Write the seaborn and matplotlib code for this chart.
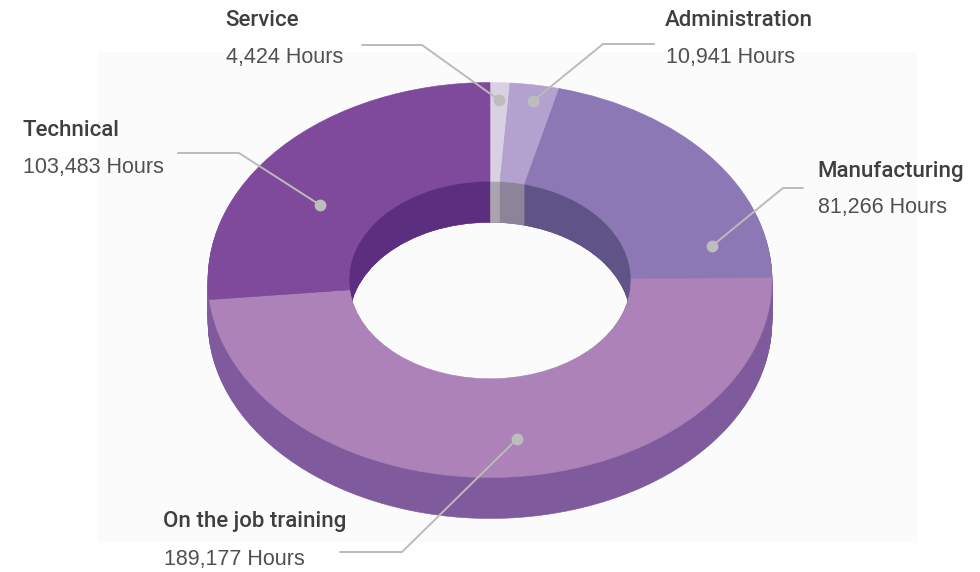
import matplotlib.pyplot as plt
import seaborn as sns

CATEGORIES = ["Service", "Administration", "Manufacturing", "On the job training", "Technical"]
HOURS = [4424, 10941, 81266, 189177, 103483]
TOP_COLORS = ["#DAD0E4", "#B3A2CF", "#8D78B6", "#AC82B8", "#7F4A9C"]
WALL_COLORS = ["#ABA3B0", "#8E8499", "#5F5388", "#7F5A9D", "#5C2E7F"]
SIDE_COLOR = "#7F5A9D"

# layout in reference pixels
W, H = 980, 572
CX, CY, RX, RY = 490, 280, 282, 197.5
DEPTH = 41
TEXT_POS = [(226, 21, 58), (666, 21, 58), (818, 171, 208), (164, 522, 560), (23, 130, 167)]
LEADERS = [
    [(362, 45), (422, 45), (499, 100)],
    [(654, 44), (603, 44), (533, 101)],
    [(803, 188), (783, 188), (712, 246)],
    [(340, 552), (402, 552), (517, 439)],
    [(178, 153), (239, 153), (320, 205)],
]

sns.set_theme(style="white")
plt.rcParams["font.family"] = ["Liberation Sans", "DejaVu Sans"]

fig = plt.figure(figsize=(W / 100, H / 100), dpi=100, facecolor="white")
fig.add_artist(
    plt.Rectangle(
        (98 / W, 1 - 543 / H),
        819 / W,
        491 / H,
        transform=fig.transFigure,
        color="#FBFBFB",
        linewidth=0,
        zorder=-1,
    )
)

ax = fig.add_axes([0, 0, 1, 1], zorder=1)
ax.patch.set_visible(False)


def draw_ring(offset, colors, radius=1, width=0.5):
    wedges, _ = ax.pie(
        HOURS,
        colors=colors,
        startangle=90,
        counterclock=False,
        radius=radius,
        center=(0, -offset / RY),
        wedgeprops={"width": width},
    )
    for wedge in wedges:
        wedge.set_edgecolor(wedge.get_facecolor())
        wedge.set_linewidth(0.4)


# stacked rings give the extruded side, narrower ones the inner wall
for d in range(DEPTH, 0, -1):
    draw_ring(d, [SIDE_COLOR] * len(HOURS))
for d in range(DEPTH, 0, -1):
    draw_ring(d, WALL_COLORS, radius=0.75, width=0.25)
draw_ring(0, TOP_COLORS)

ax.set_aspect("auto")
ax.set_xlim(-CX / RX, (W - CX) / RX)
ax.set_ylim((CY - H) / RY, CY / RY)
ax.axis("off")

over = fig.add_axes([0, 0, 1, 1], zorder=2)
over.patch.set_visible(False)
over.set_xlim(0, W)
over.set_ylim(H, 0)
over.axis("off")

for pts in LEADERS:
    xs, ys = zip(*pts)
    over.plot(xs, ys, color="#BBBBBB", linewidth=1.4, solid_joinstyle="miter")
    over.plot(xs[-1], ys[-1], "o", color="#BDBDBD", markersize=8.5, markeredgewidth=0)

for name, hours, (x, y1, y2) in zip(CATEGORIES, HOURS, TEXT_POS):
    over.text(x - 1, y1, name, fontsize=16, color="#3F3F3F", va="center", ha="left",
              family="Roboto", fontweight="medium")
    over.text(x, y2, f"{hours:,} Hours", fontsize=15.5, color="#505050", va="center", ha="left")

fig.savefig("out.png", dpi=100, facecolor="white")
